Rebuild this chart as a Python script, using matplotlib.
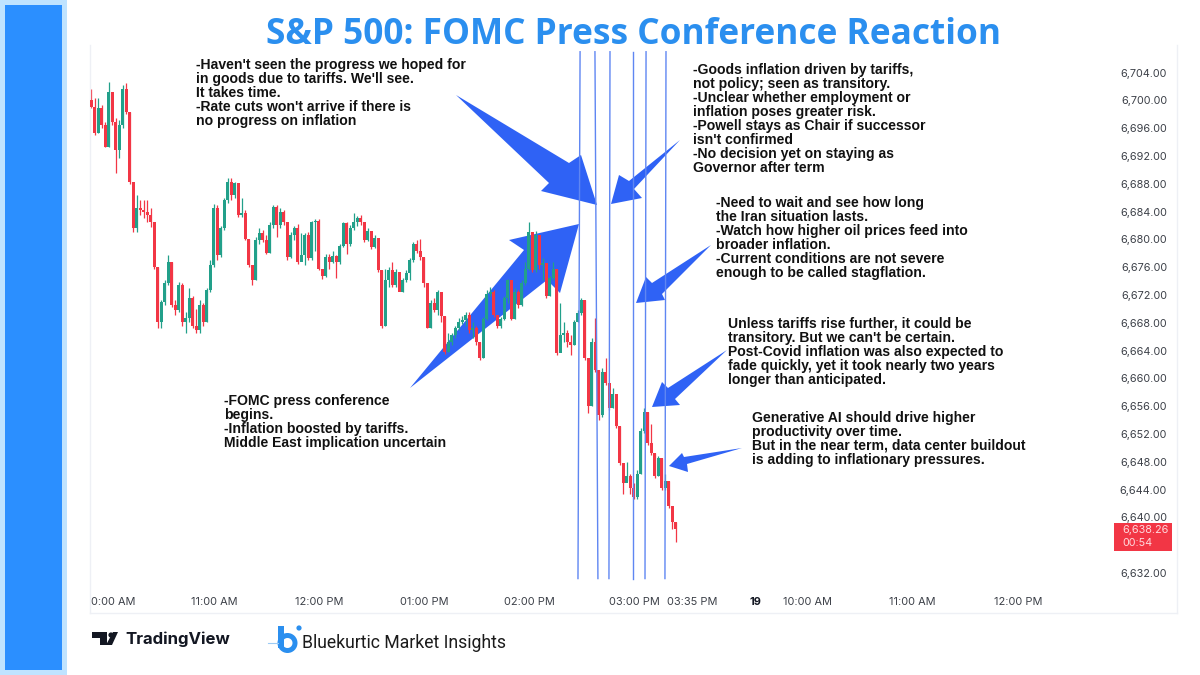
import numpy as np
import matplotlib
matplotlib.use("Agg")
import matplotlib.pyplot as plt
from matplotlib.patches import Polygon, Rectangle, Circle, Wedge

# candles, 2 minutes each
closes = [6699.1,6695.3,6698.9,6696.4,6693.3,6701.2,6696.9,6692.8,6696.4,6701.7,6698.3,6688.2,6681.6,6684.5,6684.2,6683.9,6683.5,6682.5,6676,6668.1,6671,6673.7,6676.7,6670.6,6669.8,6673.4,6668.1,6668.7,6671.5,6667.6,6666.9,6670.6,6668.1,6672.7,6676.3,6684.5,
    6677.7,6681.6,6685.6,6688.2,6686.4,6688.1,6683.5,6683.8,6680.1,6676.3,6674.1,6679.9,6680.9,6679.9,6678.1,6682,6684.6,6682,6683.9,6682.5,6677.4,6680.6,6681.6,6676.7,6677.7,6680.6,6677.3,6682.5,6682.7,6675.8,6674.7,6677.4,6676.7,6677.6,6676.7,6679.1,
    6682.3,6679.4,6681.6,6682.5,6683.1,6682.5,6679.9,6681.2,6678.9,6680.2,6675.6,6667.6,6674.1,6675.6,6673.4,6675.3,6672.4,6674.1,6675.1,6677,6679.4,6678.4,6677.4,6673.7,6667.3,6670.8,6669.8,6672.4,6669,6663.8,6665.2,6666.2,6667.3,6668.1,6668.4,6669.1,
    6666.9,6667.2,6665.2,6662.9,6668.6,6672.2,6672.5,6669.1,6667.5,6668.6,6671.5,6674.1,6668.6,6672.4,6670.5,6673.7,6675.8,6681,6675.6,6680.6,6676.3,6676.6,6671.8,6674.4,6675.8,6663.6,6666.2,6666.6,6665.2,6664.8,6668.1,6669.4,6671.3,
    6662.9,6656.1,6665.2,6661.2,6654.7,6660.9,6659.4,6655.7,6657.8,6653.2,6647.8,6645,6646,6644.3,6642.9,6646.3,6652.5,6655.1,6650.7,6649.2,6646,6648.6,6644.2,6645.3,6641.7,6639.3,6638.26]
highs = [6701.6,6700.3,6700.3,6699.3,6696.9,6702.6,6700,6697.4,6697.2,6702.2,6702.5,6698.3,6688.2,6686.4,6685.6,6685.6,6685.6,6684.5,6682.5,6676,6671.3,6674.1,6677.7,6676.7,6671.3,6673.8,6673.7,6669.5,6673,6671.9,6670,6671.3,6670.8,6673,6677,6685.1,
    6684.9,6681.9,6685.9,6688.8,6688.9,6688.2,6687.8,6685.9,6684.2,6680.1,6676.3,6680.4,6681.6,6681.3,6680.6,6682.5,6684.9,6684.9,6684.5,6684.2,6682.5,6681,6681.9,6682.2,6680.9,6680.9,6681,6682.7,6683,6682.9,6675.8,6677.9,6677.9,6678.4,6677.7,6679.4,
    6682.5,6682.5,6682,6683.8,6683.3,6683.5,6682.5,6681.6,6681.2,6680.6,6680.1,6675.6,6675.8,6676.1,6676.7,6675.8,6675.3,6674.4,6675.6,6677.3,6679.6,6679.9,6680.1,6677.4,6673.3,6671.3,6671.5,6672.7,6672.4,6669,6666.5,6666.6,6667.6,6668.7,6669,6669.5,
    6669.5,6668.1,6667.6,6665.2,6668.9,6672.7,6673.2,6672.7,6669.1,6668.9,6671.9,6674.3,6673.8,6673,6672.7,6674.1,6676.7,6682.5,6681,6681.2,6680.6,6677.3,6676.6,6674.8,6676.7,6675.8,6670.9,6668.1,6666.9,6666.2,6668.4,6669.8,6671.5,
    6671.3,6662.9,6665.8,6668.7,6661.2,6661.5,6662.9,6659.4,6658.6,6657.8,6653.2,6647.8,6647.9,6646.3,6645,6646.8,6652.8,6655.7,6655.1,6653.4,6649.2,6648.9,6648.6,6646.2,6645.3,6641.7,6639.3]
lows = [6698.9,6695,6695.3,6696,6693.3,6693.3,6696.4,6689.5,6691.7,6696,6698,6687.9,6681,6681,6683.5,6683.1,6682.5,6681.8,6675.8,6667.2,6667.2,6670.6,6673.4,6670.3,6669.1,6669.5,6667.6,6666.6,6668.1,6667.3,6666.5,6666.6,6667.6,6668.1,6672.4,6676,
    6677,6677.4,6681.3,6685.3,6685.6,6685.9,6683.2,6683.2,6679.9,6676,6673.5,6674.1,6679.4,6679.6,6677.9,6678,6681.6,6680.4,6681.6,6682,6677.1,6677.3,6679.9,6676.4,6677.3,6676.3,6677,6677,6678.4,6675.6,6674.3,6674.6,6675.8,6676.6,6674.4,6676.4,
    6678.9,6677.9,6679.1,6681.3,6681.9,6682,6679.6,6679.7,6678.6,6678.7,6675.3,6667.3,6667.6,6673.1,6673.1,6673.2,6672.7,6672.4,6673.8,6674.1,6676.7,6678.1,6677,6673.1,6667.2,6667.3,6669.5,6669.1,6668.1,6663.5,6663.8,6664.8,6665.8,6666.9,6667.8,6667.6,
    6666.6,6665.8,6664.8,6662.6,6662.9,6668.4,6671.8,6668.8,6667.2,6667.2,6668.4,6670.9,6668.4,6668.6,6670.2,6670.4,6673.4,6675.6,6675.3,6675.3,6675.8,6674.1,6671.5,6671.8,6674.1,6663.3,6665.6,6665.2,6664.5,6663.3,6664.8,6668.1,6669.1,
    6662.6,6655,6656.1,6660.9,6654,6654.5,6659,6655.4,6655.7,6652.9,6647.5,6643.3,6645.2,6643.3,6642.7,6642.7,6646.2,6652.2,6650.4,6649,6645.7,6645.9,6643.9,6643.9,6641.3,6638.4,6636.4]
first_open = 6700.0
last_price = "6,638.26"
countdown = "00:54"

# 6,636 sits behind the red price box in the original
price_ticks = [6632] + list(range(6640, 6705, 4))
# minutes after 10:00 AM
time_ticks = [2, 60, 120, 180, 240, 300, 333, 369, 399, 459, 519]
time_labels = ["0:00 AM", "11:00 AM", "12:00 PM", "01:00 PM", "02:00 PM", "03:00 PM", "03:35 PM",
               "19", "10:00 AM", "11:00 AM", "12:00 PM"]
# hand drawn lines lean a bit, so top and bottom differ
event_top = [268.9, 277.4, 286.0, 299.1, 306.6, 318.0]
event_bottom = [267.7, 279.1, 285.4, 299.1, 306.0, 317.4]

title = "S&P 500: FOMC Press Conference Reaction"
note_1 = "-Haven't seen the progress we hoped for\nin goods due to tariffs. We'll see.\nIt takes time.\n-Rate cuts won't arrive if there is\nno progress on inflation"
note_2 = "-Goods inflation driven by tariffs,\nnot policy; seen as transitory.\n-Unclear whether employment or\ninflation poses greater risk.\n-Powell stays as Chair if successor\nisn't confirmed\n-No decision yet on staying as\nGovernor after term"
note_3 = "-Need to wait and see how long\nthe Iran situation lasts.\n-Watch how higher oil prices feed into\nbroader inflation.\n-Current conditions are not severe\nenough to be called stagflation."
note_4 = "Unless tariffs rise further, it could be\ntransitory. But we can't be certain.\nPost-Covid inflation was also expected to\nfade quickly, yet it took nearly two years\nlonger than anticipated."
note_5 = "Generative AI should drive higher\nproductivity over time.\nBut in the near term, data center buildout\nis adding to inflationary pressures."
note_6 = "-FOMC press conference\nbegins.\n-Inflation boosted by tariffs.\nMiddle East implication uncertain"

RED = "#F23645"
GREEN = "#22A08A"
ARROW = "#2F62F5"
W, H = 1200, 675

fig = plt.figure(figsize=(12, 6.75), dpi=100, facecolor="white")

# background layer in pixel coordinates: band, arrows, logos
bg = fig.add_axes([0, 0, 1, 1], zorder=0)
bg.set_xlim(0, W)
bg.set_ylim(H, 0)
bg.axis("off")
bg.add_patch(Rectangle((0, 0), 67, H, color="#BFE3FF", lw=0))
bg.add_patch(Rectangle((5, 5), 57, 665, color="#2B8FFF", lw=0))

arrows = [
    [(456, 95), (569, 163), (581, 155), (597, 205), (541, 191), (549, 183)],
    [(680, 140), (634, 189), (642, 198), (611, 204), (619, 175), (629, 181)],
    [(410, 388), (524, 250), (509, 240), (579, 224), (560, 293), (547, 280)],
    [(711, 245), (662, 294), (665, 300), (636, 303), (646, 277), (652, 283)],
    [(727, 350), (675, 399), (680, 405), (652, 407), (662, 382), (668, 388)],
    [(742, 448), (687, 464), (688, 472), (669, 466), (682, 453), (684, 457)],
]
for pts in arrows:
    bg.add_patch(Polygon(pts, closed=True, color=ARROW, lw=0))

# TradingView mark
bg.add_patch(Polygon([(92, 632), (107, 632), (107, 645), (100, 645), (100, 638), (92, 638)], color="#131722", lw=0))
bg.add_patch(Circle((111, 635), 2.6, color="#131722", lw=0))
bg.add_patch(Polygon([(113, 632), (118, 632), (112, 645), (106, 645)], color="#131722", lw=0))
bg.text(125, 639, "TradingView", fontsize=12.1, fontweight="bold", family="Inter", color="#131722", va="center")

# Bluekurtic mark
bg.add_patch(Rectangle((278, 626), 6, 22, color="#2B8FEF", lw=0))
bg.add_patch(Wedge((287.5, 643), 10, 0, 360, width=5, color="#2B8FEF", lw=0))
bg.add_patch(Circle((299, 628), 2.6, color="#2B8FEF", lw=0))
bg.plot([268, 278], [643, 643], color="#9CCBF5", lw=0.8)
bg.text(302, 643.5, "Bluekurtic Market Insights", fontsize=12.7, family="Roboto", color="#1b1b1b", va="center")

# chart layer, uses its own time and price scales
left, right, top, bottom = 90, 1177, 45, 613
ax = fig.add_axes([left / W, 1 - bottom / H, (right - left) / W, (bottom - top) / H], zorder=1)
ax.patch.set_alpha(0)
ax.set_xlim((left - 109.5) / 1.75, (right - 109.5) / 1.75)
ax.set_ylim(6632 + (573 - bottom) / 6.95, 6632 + (573 - top) / 6.95)

closes = np.array(closes)
opens = np.concatenate(([first_open], closes[:-1]))
minutes = -10.5 + 2 * np.arange(len(closes))
colors = [GREEN if c >= o else RED for o, c in zip(opens, closes)]

ax.vlines(minutes, lows, highs, colors=colors, lw=0.9, zorder=2)
ax.bar(minutes, np.abs(closes - opens), bottom=np.minimum(opens, closes), width=1.7, color=colors, lw=0, zorder=3)

y0, y1 = 6631.2, 6707.0
for t0, t1 in zip(event_top, event_bottom):
    ax.plot([t0, t1], [y1, y0], color="#5F86F2", lw=1.0, zorder=4)

ax.spines["top"].set_visible(False)
for side in ["left", "right", "bottom"]:
    ax.spines[side].set_color("#EEF0F5")
    ax.spines[side].set_linewidth(1)

ax.yaxis.tick_right()
ax.set_yticks(price_ticks)
ax.set_yticklabels([f"{p:,.2f}" for p in price_ticks], ha="right", family="Inter", fontsize=7.8, color="#3C4048")
ax.tick_params(axis="y", length=0, pad=-7.2)
ax.set_xticks(time_ticks)
ax.set_xticklabels(time_labels, family="Inter", fontsize=7.9, color="#3C4048", va="center")
ax.tick_params(axis="x", length=0, pad=-8)
ax.get_xticklabels()[7].set_fontweight("bold")
ax.get_xticklabels()[7].set_color("#131722")

# top layer, text and the price box
fg = fig.add_axes([0, 0, 1, 1], zorder=2)
fg.set_xlim(0, W)
fg.set_ylim(H, 0)
fg.axis("off")
fg.text(633, 35, title, fontsize=25.4, fontweight="bold", family="Open Sans", color="#2B8FEF", ha="center", va="center")

notes = [(196, 58, note_1), (693, 63, note_2), (716, 196, note_3), (728, 317, note_4), (752, 411, note_5), (224, 394, note_6)]
for x, y, txt in notes:
    fg.text(x, y, txt, fontsize=10.1, fontweight="bold", family="Liberation Sans", color="#111111",
            va="top", ha="left", linespacing=1.0)

fg.add_patch(Rectangle((1114, 523), 58, 28, color=RED, lw=0))
fg.text(1122, 530, last_price, fontsize=7.8, family="Inter", color="#FFD9DD", va="center")
fg.text(1122, 543, countdown, fontsize=7.8, family="Inter", color="#FFD9DD", va="center")

fig.savefig("out.png", dpi=100)
